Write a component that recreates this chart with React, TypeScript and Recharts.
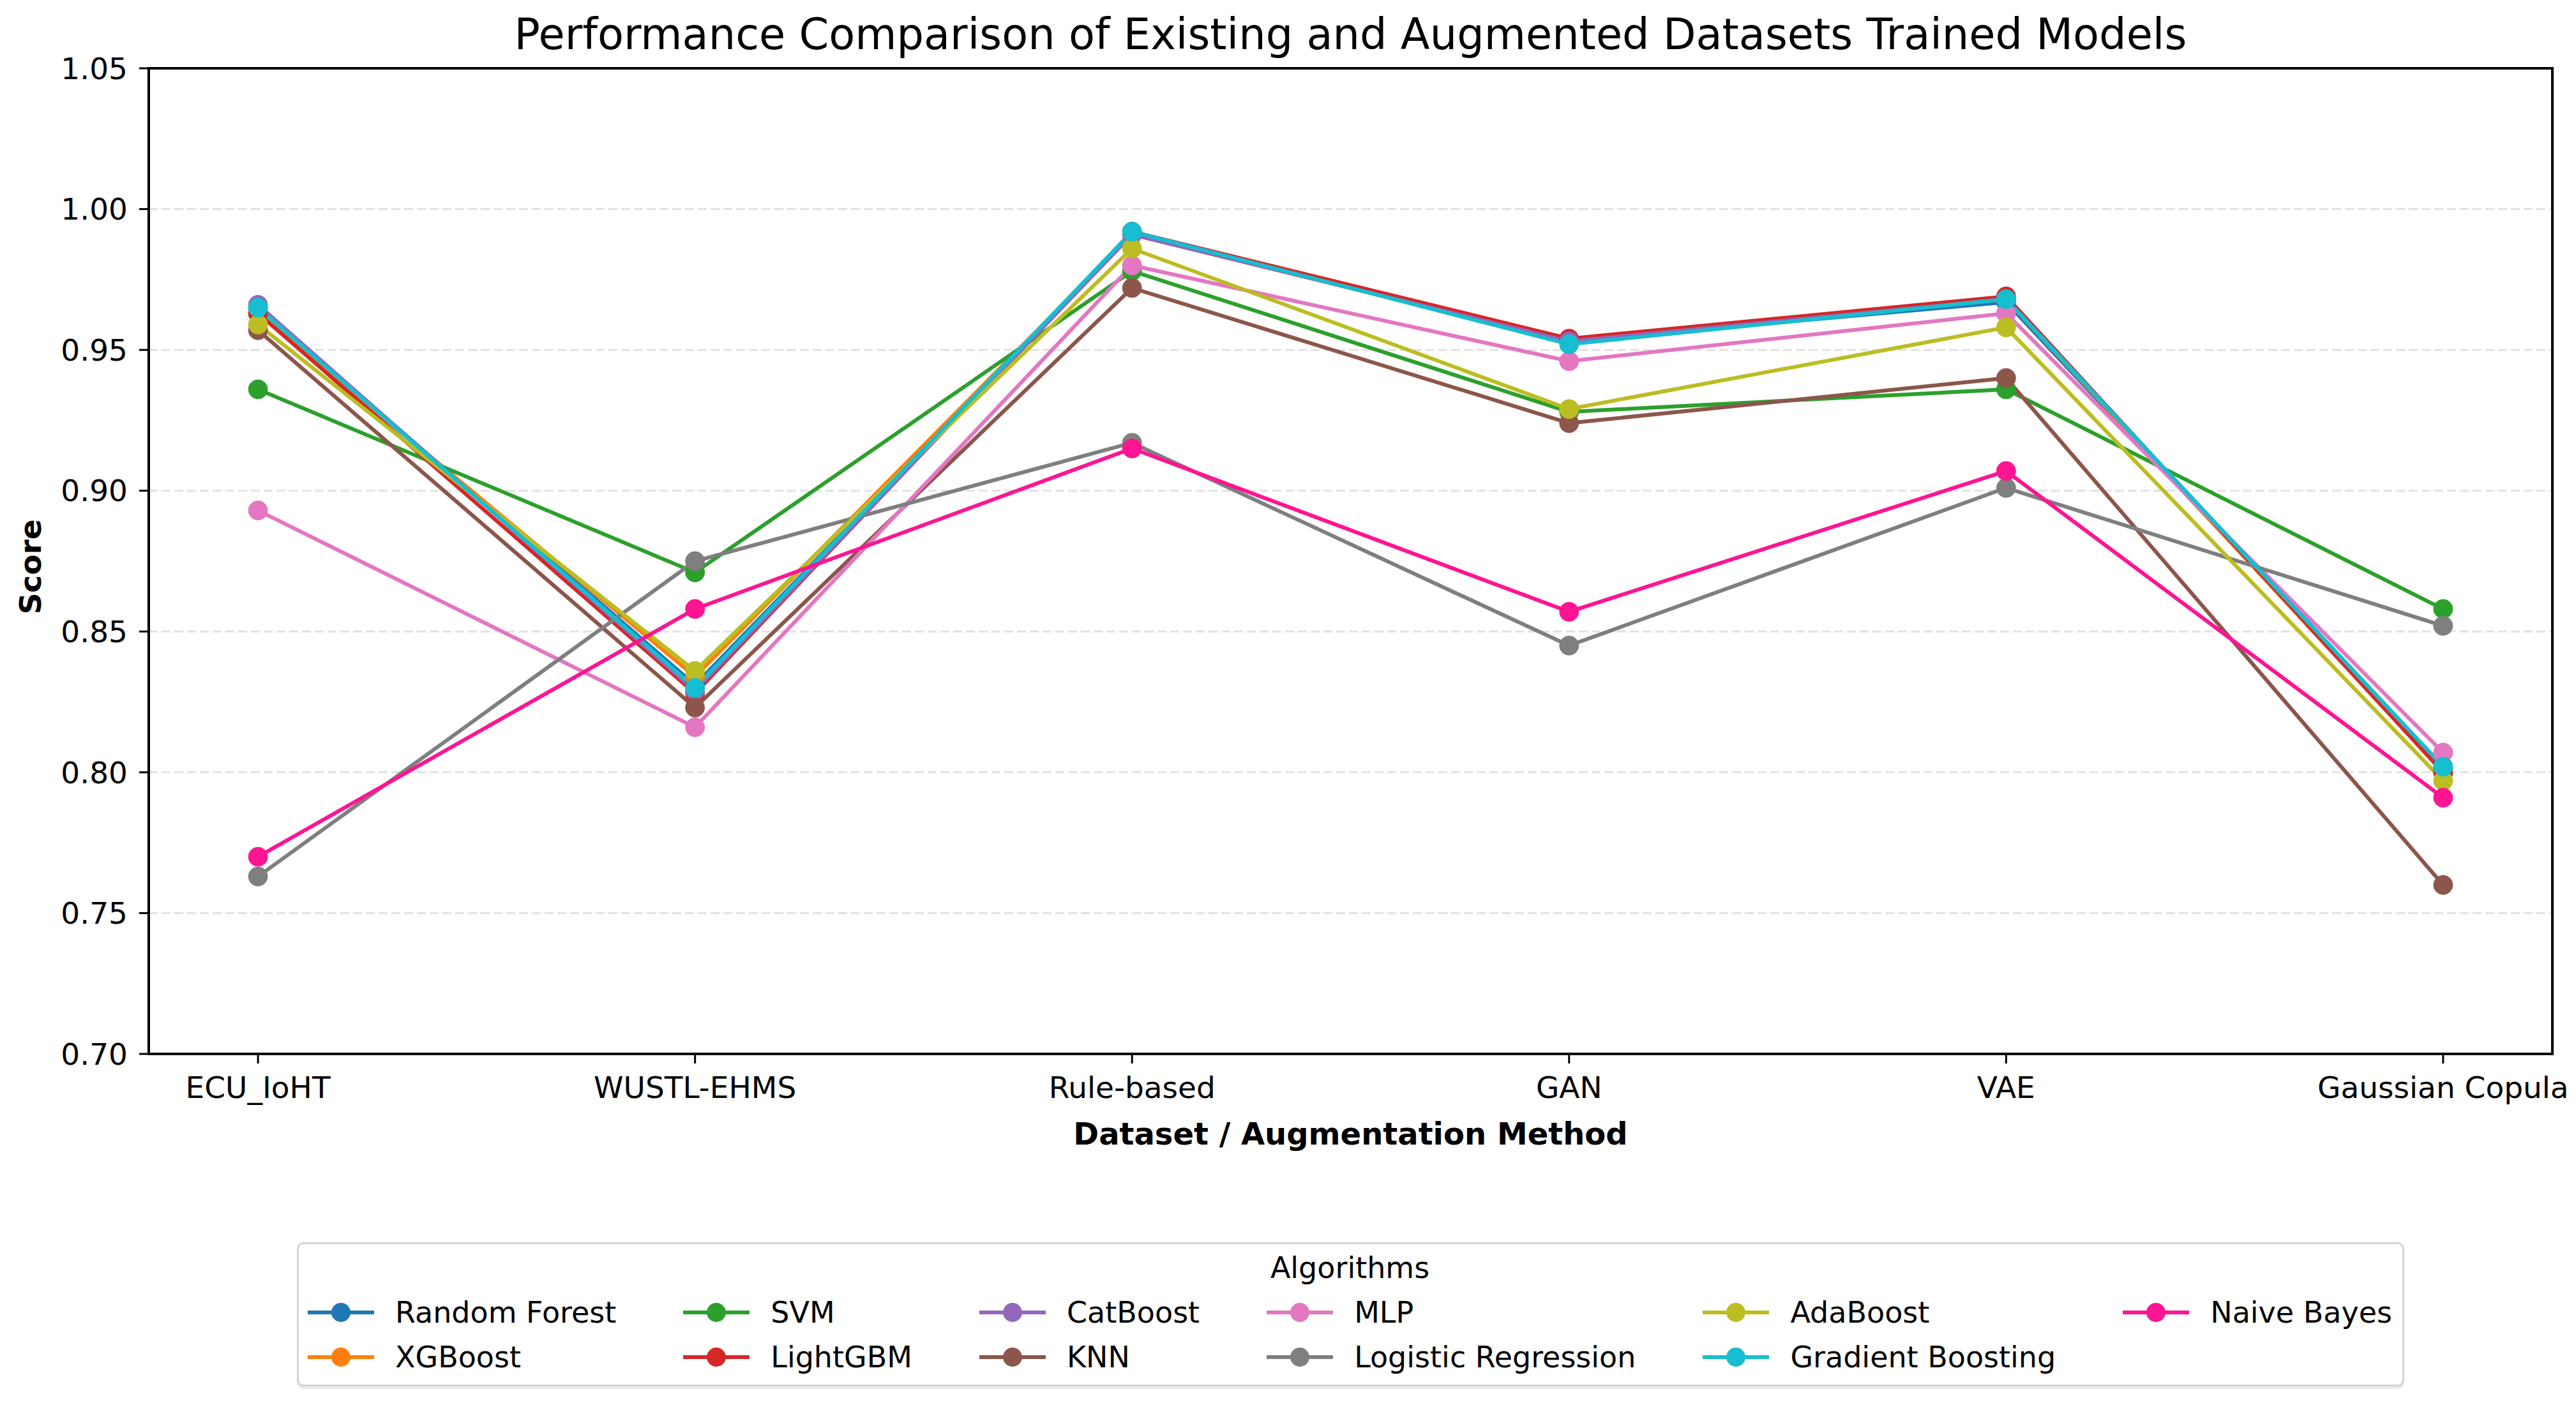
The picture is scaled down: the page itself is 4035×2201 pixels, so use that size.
import React from 'react';
import { LineChart, Line, XAxis, YAxis, CartesianGrid, ReferenceArea } from 'recharts';

const categories = ['ECU_IoHT', 'WUSTL-EHMS', 'Rule-based', 'GAN', 'VAE', 'Gaussian Copula'];

const randomForest = [0.965, 0.831, 0.991, 0.953, 0.967, 0.801];
const xgBoost = [0.963, 0.834, 0.991, 0.953, 0.968, 0.8];
const svm = [0.936, 0.871, 0.978, 0.928, 0.936, 0.858];
const lightGbm = [0.963, 0.828, 0.992, 0.954, 0.969, 0.8];
const catBoost = [0.966, 0.829, 0.991, 0.953, 0.968, 0.802];
const knn = [0.957, 0.823, 0.972, 0.924, 0.94, 0.76];
const mlp = [0.893, 0.816, 0.98, 0.946, 0.963, 0.807];
const logisticRegression = [0.763, 0.875, 0.917, 0.845, 0.901, 0.852];
const adaBoost = [0.959, 0.836, 0.986, 0.929, 0.958, 0.797];
const gradientBoosting = [0.965, 0.83, 0.992, 0.952, 0.968, 0.802];
const naiveBayes = [0.77, 0.858, 0.915, 0.857, 0.907, 0.791];

const yTicks = [0.7, 0.75, 0.8, 0.85, 0.9, 0.95, 1.0, 1.05];
const yDomain = [0.7, 1.05];
// matplotlib-style 5% margin around the category positions
const xDomain = [-0.25, categories.length - 0.75];
const xTicks = categories.map((_, i) => i);

const series = [
  { name: 'Random Forest', values: randomForest, color: '#1f77b4' },
  { name: 'XGBoost', values: xgBoost, color: '#ff7f0e' },
  { name: 'SVM', values: svm, color: '#2ca02c' },
  { name: 'LightGBM', values: lightGbm, color: '#d62728' },
  { name: 'CatBoost', values: catBoost, color: '#9467bd' },
  { name: 'KNN', values: knn, color: '#8c564b' },
  { name: 'MLP', values: mlp, color: '#e377c2' },
  { name: 'Logistic Regression', values: logisticRegression, color: '#7f7f7f' },
  { name: 'AdaBoost', values: adaBoost, color: '#bcbd22' },
  { name: 'Gradient Boosting', values: gradientBoosting, color: '#17becf' },
  { name: 'Naive Bayes', values: naiveBayes, color: '#ff1493' },
];

const data = categories.map((c, i) => {
  const row: Record<string, string | number> = { idx: i, category: c };
  series.forEach((s) => { row[s.name] = s.values[i]; });
  return row;
});

const FONT = '"DejaVu Sans", sans-serif';
const W = 4035;
const H = 2201;

function LegendBox() {
  return (
    <div
      style={{
        position: 'absolute', left: 233, width: 3765, top: 1946,
        display: 'flex', justifyContent: 'center', fontFamily: FONT,
      }}
    >
      <div
        style={{
          border: '3px solid #d4d4d4', borderRadius: 10, background: '#fff',
          padding: '2px 16px 8px 14px', boxShadow: '0 4px 0 #ececec',
        }}
      >
        <div style={{ textAlign: 'center', fontSize: 46, lineHeight: '70px' }}>Algorithms</div>
        <div
          style={{
            display: 'grid', gridTemplateRows: 'repeat(2, 70px)', gridAutoFlow: 'column',
            columnGap: 105,
          }}
        >
          {series.map((s) => (
            <div key={s.name} style={{ display: 'flex', alignItems: 'center', fontSize: 46 }}>
              <svg width={104} height={40} style={{ marginRight: 33 }}>
                <line x1={0} y1={20} x2={104} y2={20} stroke={s.color} strokeWidth={6} />
                <circle cx={52} cy={20} r={15} fill={s.color} />
              </svg>
              <span>{s.name}</span>
            </div>
          ))}
        </div>
      </div>
    </div>
  );
}

export default function App() {
  return (
    <div style={{ position: 'absolute', left: 0, top: 0, width: W, height: H, background: '#fff' }}>
      <div
        style={{
          position: 'absolute', left: 233, width: 3765, top: 21, textAlign: 'center',
          fontFamily: FONT, fontSize: 67, lineHeight: 1, color: '#000',
        }}
      >
        Performance Comparison of Existing and Augmented Datasets Trained Models
      </div>
      <LineChart
        width={W}
        height={H}
        data={data}
        margin={{ top: 107, right: 37, left: 0, bottom: 400 }}
        style={{ fontFamily: FONT }}
      >
        <CartesianGrid
          horizontal
          vertical={false}
          stroke="#e2e2e2"
          strokeWidth={3}
          strokeDasharray="14 6"
        />
        <XAxis
          dataKey="idx"
          type="number"
          domain={xDomain}
          ticks={xTicks}
          allowDataOverflow
          interval={0}
          height={150}
          tickSize={15}
          tickMargin={21}
          tickFormatter={(i: number) => categories[i]}
          axisLine={{ stroke: '#000', strokeWidth: 4 }}
          tickLine={{ stroke: '#000', strokeWidth: 3 }}
          tick={{ fill: '#000', fontSize: 47 }}
          label={{
            content: ({ viewBox }: any) => (
              <text
                x={viewBox.x + viewBox.width / 2}
                y={viewBox.y + 142}
                textAnchor="middle"
                fontSize={48}
                fontWeight="bold"
                fill="#000"
              >
                Dataset / Augmentation Method
              </text>
            ),
          }}
        />
        <YAxis
          domain={yDomain}
          ticks={yTicks}
          type="number"
          width={233}
          tickSize={15}
          tickMargin={18}
          tickFormatter={(v: number) => v.toFixed(2)}
          axisLine={{ stroke: '#000', strokeWidth: 4 }}
          tickLine={{ stroke: '#000', strokeWidth: 3 }}
          tick={{ fill: '#000', fontSize: 47 }}
          allowDataOverflow
          label={{
            content: ({ viewBox }: any) => {
              const cy = viewBox.y + viewBox.height / 2 + 9;
              return (
                <text
                  x={64}
                  y={cy}
                  textAnchor="middle"
                  fontSize={47}
                  fontWeight="bold"
                  fill="#000"
                  transform={`rotate(-90, 64, ${cy})`}
                >
                  Score
                </text>
              );
            },
          }}
        />
        <ReferenceArea
          x1={xDomain[0]}
          x2={xDomain[1]}
          y1={yDomain[0]}
          y2={yDomain[1]}
          fill="none"
          stroke="#000"
          strokeWidth={4}
          ifOverflow="visible"
        />
        {series.map((s) => (
          <Line
            key={s.name}
            type="linear"
            dataKey={s.name}
            stroke={s.color}
            strokeWidth={6}
            dot={{ r: 15, fill: s.color, stroke: s.color, strokeWidth: 1 }}
            activeDot={false}
            isAnimationActive={false}
          />
        ))}
      </LineChart>
      <LegendBox />
    </div>
  );
}
